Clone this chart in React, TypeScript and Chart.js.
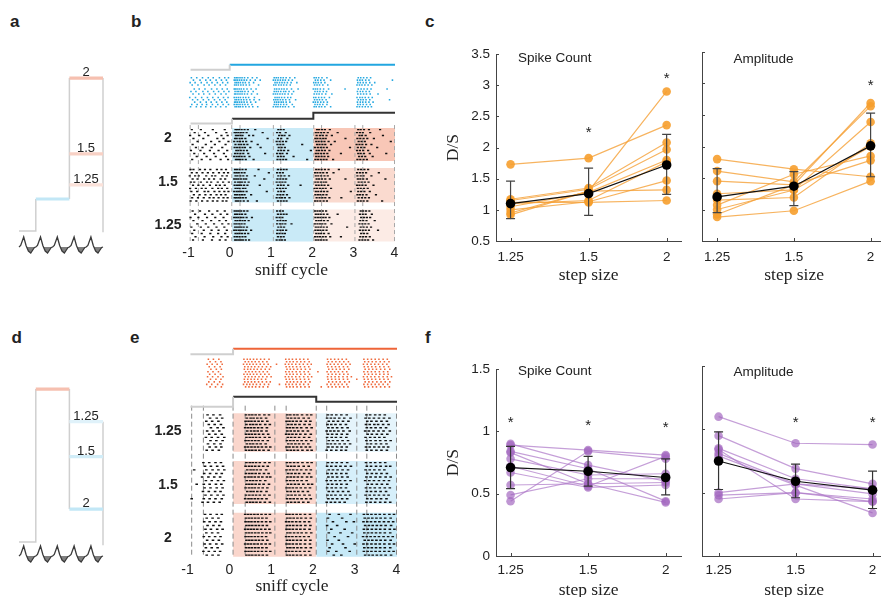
import React, { useEffect, useRef } from 'react';
import { Chart, registerables } from 'chart.js';

Chart.register(...registerables);

const SANS = '"Liberation Sans", Arial, Helvetica, sans-serif';
const SERIF = '"Liberation Serif", "Times New Roman", Times, serif';
Chart.defaults.font.family = SANS;
Chart.defaults.color = '#222';

// ===================== DATA =====================
const stepSizes = ['1.25', '1.5', '2'];
const sniffTicks = [-1, 0, 1, 2, 3, 4];

// panel c : step up (orange), D/S per cell at step sizes 1.25 / 1.5 / 2
const upSpikeCells = [
  [1.73, 1.83, 2.36], [0.92, 1.30, 2.90], [1.17, 1.35, 2.08], [1.15, 1.33, 1.97], [1.05, 1.28, 1.80],
  [1.10, 1.15, 1.77], [1.00, 1.13, 1.47], [0.95, 1.30, 1.32], [1.12, 1.12, 1.15],
];
const upSpikeMean = [1.10, 1.26, 1.72];
const upSpikeLow = [0.86, 0.91, 1.25];
const upSpikeHigh = [1.46, 1.67, 2.21];
const upSpikeStars = [[2, 2.3], [3, 3.17]];

const upAmpCells = [
  [1.80, 1.64, 1.52], [1.61, 1.44, 2.64], [1.45, 1.39, 2.69], [1.25, 1.31, 2.39], [1.15, 1.19, 2.05],
  [1.07, 1.56, 1.85], [1.00, 1.31, 2.00], [0.92, 1.39, 1.78], [0.88, 0.98, 1.45],
];
const upAmpMean = [1.20, 1.37, 2.01];
const upAmpLow = [0.95, 1.06, 1.52];
const upAmpHigh = [1.65, 1.60, 2.53];
const upAmpStars = [[3, 3.02]];

// panel f : step down (purple)
const downSpikeCells = [
  [0.90, 0.73, 0.60], [0.89, 0.85, 0.81], [0.84, 0.70, 0.44], [0.83, 0.58, 0.43], [0.78, 0.65, 0.66],
  [0.72, 0.56, 0.80], [0.67, 0.55, 0.57], [0.57, 0.58, 0.59], [0.49, 0.62, 0.62], [0.44, 0.84, 0.78],
];
const downSpikeMean = [0.71, 0.68, 0.63];
const downSpikeLow = [0.54, 0.56, 0.49];
const downSpikeHigh = [0.88, 0.80, 0.78];
const downSpikeStars = [[1, 1.10], [2, 1.08], [3, 1.06]];

const downAmpCells = [
  [1.10, 0.89, 0.88], [0.95, 0.69, 0.57], [0.85, 0.61, 0.53], [0.84, 0.45, 0.43], [0.81, 0.57, 0.49],
  [0.79, 0.56, 0.34], [0.50, 0.57, 0.53], [0.48, 0.50, 0.45], [0.45, 0.50, 0.43],
];
const downAmpMean = [0.75, 0.59, 0.52];
const downAmpLow = [0.525, 0.46, 0.375];
const downAmpHigh = [0.98, 0.725, 0.67];
const downAmpStars = [[2, 1.085], [3, 1.085]];

// schematic (a, d): odour levels in arbitrary schematic units
const upFirstLevel = 1;
const upStepLevels = [4.78, 2.41, 1.44];
const upStepLabels = ['2', '1.5', '1.25'];
const downFirstLevel = 4.78;
const downStepLevels = [3.76, 2.67, 1.03];
const downStepLabels = ['1.25', '1.5', '2'];
const sniffCycleShape = [[0, 0], [0.1, 0.15], [0.28, 1], [0.42, 0.15], [0.56, -0.4], [0.7, -0.6], [0.82, -0.3], [0.92, -0.05], [1, 0]];
const sniffCycleStarts = [0, 1, 2, 3, 4];

// rasters: spike times in 1/100 sniff cycle, one string per trial
const bBlockLabels = ['2', '1.5', '1.25'];
const eBlockLabels = ['1.25', '1.5', '2'];
const bSniffMarks = [-0.96, -0.76, 0.05, 0.25, 1.06, 1.24, 2.04, 2.23, 3.04, 3.23, 4.0];
const eSniffMarks = [-0.9, -0.62, 0.09, 0.38, 1.09, 1.36, 2.08, 2.33, 3.05, 3.29, 4.0];

const bBlueTrials = [
  '-93 -80 -66 -52 -40 -25 -12 -3 12 16 20 25 30 36 44 55 66 108 113 118 124 130 137 146 158 205 210 216 224 236 312 318 325 333 342',
  '-88 -72 -58 -47 -33 -20 -8 11 15 19 24 29 35 41 50 62 74 106 111 117 123 129 135 143 152 208 214 221 229 245 310 316 322 330 338 395',
  '-96 -84 -69 -55 -43 -30 -17 -5 13 17 21 26 32 38 47 58 110 115 121 127 133 140 149 163 204 209 215 222 231 311 317 324 331 340 352',
  '-91 -77 -62 -50 -36 -23 -10 12 16 21 27 33 40 48 70 107 112 119 125 131 138 147 206 212 218 226 238 309 315 321 328 336 345',
  '-86 -74 -60 -44 -31 -18 -6 11 14 18 23 28 34 42 52 64 109 114 120 126 132 139 150 166 203 208 213 220 228 240 280 312 319 326 334 343 382',
  '-94 -82 -65 -53 -39 -27 -14 -2 13 18 22 27 31 37 45 57 108 113 118 124 131 136 144 155 207 213 219 227 235 310 317 323 331 339',
  '-89 -75 -63 -49 -35 -21 -9 12 15 20 25 30 36 43 53 67 106 111 116 122 128 134 142 151 205 211 217 224 233 248 311 318 325 332 341 360',
  '-97 -83 -68 -54 -41 -28 -15 -4 11 16 21 26 33 39 46 60 110 115 120 126 133 141 148 204 209 216 223 230 242 309 316 322 329 337 346',
  '-90 -78 -64 -51 -37 -24 -11 13 17 22 28 34 41 49 59 72 107 112 117 123 129 136 145 160 206 212 218 225 234 312 318 324 331 340 388',
  '-85 -71 -57 -45 -32 -19 -7 12 15 19 24 29 35 42 51 63 109 114 119 125 130 137 146 203 208 214 221 228 237 310 317 323 330 338 348',
  '-92 -79 -67 -56 -42 -29 -16 -3 11 16 20 25 31 37 44 54 108 113 118 124 131 138 152 207 213 219 226 236 311 317 324 332 341',
  '-95 -81 -70 -58 -46 -34 -22 -9 13 17 22 26 32 39 47 56 68 106 112 117 123 129 135 143 156 205 210 217 223 231 245 309 315 322 329 336 344',
];
const bTrials2 = [
  '-92 -70 -41 -12 14 18 23 29 36 44 62 118 124 131 212 217 224 231 243 312 318 326 338 365',
  '-85 -60 -33 -8 12 16 21 27 33 41 80 115 122 136 209 215 222 229 238 262 309 316 323 341',
  '-96 -74 -52 -20 -5 15 20 26 31 47 57 120 127 133 145 211 219 226 235 248 315 321 330 372',
  '-88 -64 -30 -15 13 17 24 30 38 92 117 125 140 208 213 220 227 233 281 310 317 325 334 350',
  '-78 -45 -25 -3 11 19 25 32 40 53 114 121 129 137 210 216 223 230 240 255 313 320 328 391',
  '-90 -58 -36 -10 14 22 28 35 43 68 116 123 130 176 212 218 225 232 246 308 315 322 331 344',
  '-82 -66 -44 -18 12 18 24 31 37 50 75 119 126 134 207 214 221 228 236 292 311 319 327 358',
  '-94 -71 -48 -27 -6 16 21 27 34 42 118 125 132 142 197 211 217 224 231 242 309 316 324 336',
  '-86 -62 -38 -14 13 19 26 33 45 86 115 122 128 139 209 215 222 229 237 270 312 318 326 340 380',
  '-80 -56 -34 -9 11 17 23 29 36 48 117 124 131 155 210 216 223 230 239 314 321 329 347',
  '-91 -68 -47 -22 -4 15 20 25 31 39 58 116 123 130 137 188 208 214 221 228 235 251 310 317 325 333',
];
const bTrials15 = [
  '-95 -88 -72 -60 -47 -31 -20 -9 13 18 24 31 39 70 117 124 131 138 210 216 223 231 240 265 312 319 327 336',
  '-92 -80 -66 -53 -40 -26 -14 -4 12 17 22 29 36 95 115 122 129 207 213 220 227 236 252 309 316 323 331 362',
  '-97 -84 -75 -57 -43 -35 -18 -7 14 19 26 33 42 61 118 125 133 144 209 215 222 230 238 310 318 325 344',
  '-90 -78 -62 -50 -38 -22 -11 11 16 21 27 34 40 84 116 123 130 137 211 217 224 232 243 281 311 317 324 333 378',
  '-94 -86 -70 -55 -45 -29 -16 -2 13 20 25 30 37 46 114 121 128 135 208 214 221 228 234 313 320 328 337',
  '-89 -76 -64 -48 -33 -24 -12 12 18 23 28 35 43 73 117 124 131 142 172 210 216 223 230 239 309 315 322 330 349',
  '-96 -82 -68 -58 -42 -28 -19 -6 14 19 24 32 38 115 122 129 136 206 212 219 226 233 246 311 318 326 335',
  '-93 -79 -61 -52 -37 -25 -13 -3 11 17 22 27 33 41 90 118 125 132 209 215 222 229 237 294 312 319 327 340',
  '-87 -73 -59 -46 -32 -21 -10 13 18 24 30 36 52 116 123 130 139 208 214 220 227 235 310 316 323 332 355',
  '-91 -77 -63 -49 -39 -27 -15 -5 12 16 21 26 32 39 114 121 127 134 145 211 218 225 232 242 271 313 321 329 338',
  '-95 -81 -67 -54 -41 -30 -17 -8 15 20 26 34 44 66 117 124 131 138 207 213 220 228 236 311 318 325 334 370',
];
const bTrials125 = [
  '-90 -72 -50 -30 -12 12 17 22 28 35 43 115 122 129 207 213 219 226 234 318 324 331 339',
  '-84 -60 -42 -22 -6 13 18 24 30 38 117 124 131 138 209 215 221 228 237 262 316 323 330 345',
  '-95 -76 -55 -35 -15 11 16 21 27 33 41 54 114 121 128 208 214 220 227 233 242 319 326 333 341',
  '-88 -66 -45 -25 -9 14 19 25 31 37 46 116 123 130 136 210 216 222 229 238 317 324 332 352',
  '-79 -58 -38 -18 -3 12 17 23 29 36 115 122 128 135 150 207 213 219 225 232 247 315 322 329 337',
  '-93 -70 -52 -32 -13 13 18 23 28 34 42 118 125 132 209 215 221 228 236 285 318 325 333 343',
  '-86 -63 -44 -27 -7 11 16 22 27 33 40 52 116 123 129 137 208 214 220 227 235 316 323 330 338 360',
  '-91 -68 -47 -28 -11 14 19 24 30 37 45 115 121 128 134 210 216 222 229 240 319 326 334',
  '-83 -61 -40 -20 -5 12 18 24 31 38 117 124 131 207 213 219 226 233 244 270 317 324 331 340',
  '-89 -65 -43 -24 -10 13 17 22 27 32 39 47 114 121 127 134 209 215 221 228 235 315 322 329 336 348',
];

const eOrangeTrials = [
  '-50 -38 -25 35 43 50 58 66 75 84 95 135 143 151 160 169 178 188 235 243 252 261 270 280 322 331 340 349 358 368 378',
  '-46 -33 -20 38 46 54 62 71 80 90 137 145 153 162 171 180 191 237 246 255 264 274 285 324 333 342 351 361 371 382',
  '-53 -41 -29 -17 34 42 49 57 65 74 83 93 113 134 142 150 159 168 177 187 196 234 242 251 260 269 279 289 321 330 339 348 357 367 377',
  '-48 -35 -22 37 45 53 61 70 79 89 99 136 144 152 161 170 180 190 236 245 254 263 273 283 323 332 341 350 360 370 381',
  '-44 -31 -19 36 44 51 59 67 76 86 96 138 146 154 163 172 182 193 238 247 256 265 275 286 325 334 343 352 362 372 384',
  '-51 -39 -26 39 47 55 63 72 81 91 135 143 151 160 169 179 189 212 234 243 252 261 271 281 322 331 340 349 359 369 379',
  '-47 -34 -21 35 43 50 58 66 75 85 95 137 145 153 162 171 181 192 237 246 255 264 274 284 324 333 342 351 360 370 380',
  '-52 -40 -27 -15 38 46 54 62 71 80 90 100 134 142 150 159 168 178 188 197 235 244 253 262 272 282 292 321 330 339 348 358 368 378 388',
  '-45 -32 -20 36 44 52 60 68 77 87 136 144 152 161 170 180 190 236 245 254 263 273 283 305 323 332 341 350 360 370 380',
  '-49 -36 -23 37 45 53 61 70 79 89 98 138 146 154 163 172 182 193 238 247 256 265 276 287 325 334 343 353 363 373 384',
  '-54 -42 -28 -16 34 42 49 57 65 74 84 94 120 135 143 151 160 169 178 189 234 243 252 261 270 281 322 331 340 349 358 368 379',
  '-46 -33 -19 39 47 55 63 72 81 92 137 145 153 162 171 181 191 220 237 246 255 264 274 284 324 333 343 352 362 372 383',
];
const eTrials125 = [
  '-52 -38 -22 40 48 55 63 72 84 95 139 146 155 163 174 186 196 236 245 256 268 281 328 337 349 360 372',
  '-46 -30 -17 42 51 58 67 76 88 140 148 157 166 178 190 234 243 252 263 275 290 326 335 346 358 370 383',
  '-55 -41 -26 39 46 53 61 70 79 91 137 144 152 161 171 183 194 238 249 260 272 285 330 340 352 364 377',
  '-49 -35 -20 41 50 57 65 74 86 97 141 149 158 168 180 192 235 244 254 266 279 327 336 347 356 368 381',
  '-44 -28 -14 38 45 52 60 69 78 90 138 145 153 162 172 185 197 237 247 258 270 283 329 339 350 362 375',
  '-53 -39 -24 43 52 60 68 77 89 139 147 156 165 176 188 233 242 251 261 273 288 325 334 345 357 369 384',
  '-48 -33 -18 40 47 54 62 71 81 93 136 143 151 160 170 182 195 236 246 257 269 282 331 341 353 365 378',
  '-56 -42 -27 -12 41 49 56 64 73 85 96 140 148 157 167 179 191 234 245 255 267 280 326 337 348 359 371',
  '-45 -31 -16 39 46 54 62 70 80 92 138 146 154 163 173 184 196 238 248 259 271 284 328 338 350 361 374 386',
  '-51 -36 -21 42 50 57 66 75 87 141 149 158 167 177 189 235 243 253 264 276 289 330 339 351 363 376',
  '-47 -32 -19 38 45 53 61 69 78 88 98 137 144 153 162 172 183 193 237 247 258 269 281 327 336 347 358 369 380',
  '-54 -40 -25 40 48 55 63 72 82 94 139 147 155 164 175 187 197 233 244 256 268 279 329 340 352 364 377',
];
const eTrials15 = [
  '-62 -48 -33 -20 41 49 56 64 73 85 96 138 146 155 164 175 187 197 236 246 257 269 282 327 338 349 361 373',
  '-58 -44 -29 -15 39 47 54 62 71 81 92 140 148 156 166 178 190 234 244 255 266 278 291 329 339 351 362 375 385',
  '-84 -55 -40 -26 -12 43 51 58 66 75 88 137 145 153 162 172 184 195 238 248 259 271 284 326 336 347 359 371',
  '-60 -46 -31 -18 40 48 55 63 72 83 94 141 149 158 167 179 191 235 245 256 268 280 330 341 352 364 377',
  '-65 -50 -36 -22 38 46 53 61 70 79 90 98 139 147 155 164 174 186 196 237 247 258 270 283 328 338 350 361 374 386',
  '-56 -42 -27 -13 42 50 57 65 74 86 138 146 154 163 173 185 233 243 254 265 277 290 325 335 346 358 370 382',
  '-78 -61 -47 -32 -19 41 48 55 63 72 82 95 140 148 157 166 177 189 198 236 246 257 268 281 331 341 353 365 378',
  '-59 -45 -30 -16 39 47 54 61 70 80 91 137 144 152 161 171 182 193 234 245 255 267 279 327 337 348 360 372 384',
  '-63 -49 -34 -21 43 51 58 67 76 89 139 147 156 165 176 188 238 248 260 272 285 329 339 350 362 375',
  '-57 -43 -28 -14 40 48 56 64 73 84 96 141 149 158 168 180 192 235 244 254 266 278 289 326 336 347 358 370 381',
  '-90 -61 -47 -33 -18 38 46 53 61 69 78 89 138 146 154 163 173 184 195 237 247 258 270 282 330 340 352 363 376',
  '-64 -51 -37 -23 42 50 57 65 74 85 97 140 148 157 166 177 189 233 243 253 264 276 328 338 349 361 373 385',
];
const eTrials2 = [
  '-58 -45 -30 -18 38 45 52 60 68 77 87 97 137 144 152 161 170 181 193 240 262 290 322 331 340 350 360 371 383 394',
  '-54 -40 -26 40 47 54 62 70 79 89 139 146 154 163 172 183 195 236 270 324 333 342 352 362 373 386',
  '-60 -47 -33 -20 39 46 53 61 69 78 88 98 136 143 151 160 169 180 191 248 280 298 321 330 339 349 359 370 381 392',
  '-52 -38 -24 41 48 55 63 71 80 90 138 145 153 162 171 182 194 234 258 325 334 343 353 363 374 387',
  '-57 -44 -29 -16 38 45 52 59 67 76 86 96 137 144 152 161 170 180 192 244 276 322 331 341 351 361 372 384 395',
  '-55 -41 -27 40 47 54 62 70 79 89 98 139 146 155 164 173 184 196 238 266 294 323 332 341 351 361 372 385',
  '-61 -48 -34 -21 39 46 53 61 69 78 88 136 143 151 160 169 179 190 252 284 320 329 338 348 358 369 380 391',
  '-53 -39 -25 41 48 55 63 71 80 91 138 145 153 162 171 182 194 235 262 324 333 342 352 362 373 386',
  '-59 -46 -31 -17 38 45 52 60 68 77 87 97 137 144 152 161 170 181 193 246 272 300 321 330 340 350 360 371 383 394',
  '-56 -42 -28 40 47 54 62 70 79 89 139 146 154 163 172 183 195 240 278 323 332 341 351 361 372 385',
  '-62 -49 -35 -22 39 46 53 61 69 78 88 98 136 143 151 160 169 180 191 237 256 288 322 331 340 350 360 371 382 393',
  '-54 -40 -26 41 48 55 63 71 80 90 138 145 153 162 171 182 194 250 268 325 334 343 353 363 374 387',
];

// ===================== HELPERS =====================
function rangeFor(p0: number, v0: number, p1: number, v1: number, s: number, e: number) {
  const k = (v1 - v0) / (p1 - p0);
  const a = v0 + (s - p0) * k;
  const b = v0 + (e - p0) * k;
  return { min: Math.min(a, b), max: Math.max(a, b) };
}
const pts = (arr: number[][]) => arr.map(([x, y]) => ({ x, y }));
function seg(p: number[][], color: string, w: number, order = 3, dash: number[] = [], yAxisID = 'y') {
  return { data: pts(p), borderColor: color, borderWidth: w, borderDash: dash, pointRadius: 0, fill: false, tension: 0, order, yAxisID };
}
function rect(x0: number, x1: number, y0: number, y1: number, color: string) {
  return { data: pts([[x0, y0], [x1, y0]]), borderColor: 'rgba(0,0,0,0)', borderWidth: 0, pointRadius: 0, fill: { value: y1 }, backgroundColor: color, order: 10 };
}
function spread(a: number, b: number, n: number) {
  return Array.from({ length: n }, (_, i) => a + (i * (b - a)) / (n - 1));
}
function spikes(rows: string[], ys: number[], color: string, r: number, dash = false) {
  const data: { x: number; y: number }[] = [];
  rows.forEach((row, i) => row.trim().split(/\s+/).forEach((t) => data.push({ x: Number(t) / 100, y: ys[i] })));
  return dash
    ? { data, showLine: false, pointStyle: 'line', pointRadius: r, pointBorderColor: color, pointBorderWidth: 1.4, pointBackgroundColor: color, borderWidth: 0, order: 2 }
    : { data, showLine: false, pointStyle: 'rect', pointRadius: r, pointBackgroundColor: color, pointBorderWidth: 0, borderWidth: 0, order: 2 };
}
const baseOpts = { responsive: false, animation: false, events: [] as string[] };
const noPlug = { legend: { display: false }, tooltip: { enabled: false } };

// ===================== SCHEMATICS (a, d) =====================
const SCH = { W: 120, H: 220, unit: 32 };
const aBox = { T: 50, base: 231, wave: 247 };
const dBox = { T: 360, base: 542, wave: 556 };
const GRAY = '#cfcfcf';
const PINKS = ['#f6c0b0', '#f8d1c5', '#fbe2da'];
const BLUES = ['#e0f2fa', '#d1edf8', '#c2e7f6'];

function waveDataset() {
  const data = sniffCycleStarts.flatMap((c) => sniffCycleShape.map(([p, v]) => ({ x: c + p, y: v })));
  return { data, yAxisID: 'yw', borderColor: '#3a3a3a', borderWidth: 1.3, pointRadius: 0, tension: 0, order: 1, fill: { target: { value: 0 }, above: 'rgba(0,0,0,0)', below: '#808080' } };
}
function schemConfig(box: { T: number; base: number; wave: number }, datasets: any[]) {
  const xr = rangeFor(19, 0, 103, 5, 0, SCH.W);
  const yr = rangeFor(box.base, 0, box.base - SCH.unit, 1, box.T, box.T + SCH.H);
  const wr = rangeFor(box.wave, 0, box.wave - 10, 1, box.T, box.T + SCH.H);
  return {
    type: 'line',
    data: { datasets: [...datasets, waveDataset()] },
    options: {
      ...baseOpts, layout: { padding: 0 }, plugins: noPlug,
      scales: {
        x: { type: 'linear', display: false, ...xr },
        y: { type: 'linear', display: false, ...yr },
        yw: { type: 'linear', display: false, ...wr },
      },
    },
  };
}
const makeA = () => schemConfig(aBox, [
  seg([[0, 0], [1, 0], [1, upFirstLevel]], GRAY, 1.5),
  seg([[3, upFirstLevel], [3, upStepLevels[0]]], GRAY, 1.5),
  seg([[5, upStepLevels[0]], [5, -0.04]], GRAY, 1.5),
  seg([[1, upFirstLevel], [3, upFirstLevel]], BLUES[2], 3.2, 2),
  ...upStepLevels.map((L, i) => seg([[3, L], [5, L]], PINKS[i], 3.2, 2)),
]);
const makeD = () => schemConfig(dBox, [
  seg([[0, 0], [1, 0], [1, downFirstLevel]], GRAY, 1.5),
  seg([[3, downFirstLevel], [3, downStepLevels[2]]], GRAY, 1.5),
  seg([[5, downStepLevels[0]], [5, -0.1]], GRAY, 1.5),
  seg([[1, downFirstLevel], [3, downFirstLevel]], PINKS[0], 3.2, 2),
  ...downStepLevels.map((L, i) => seg([[3, L], [5, L]], BLUES[i], 3.2, 2)),
]);

// ===================== RASTERS (b, e) =====================
type Box = { L: number; T: number; W: number; H: number; l: number; t: number; r: number; b: number };
const bBox: Box = { L: 170, T: 55, W: 240, H: 226, l: 188, t: 58, r: 395, b: 243 };
const eBox: Box = { L: 170, T: 335, W: 240, H: 262, l: 187, t: 338, r: 397, b: 557 };

function rasterConfig(box: Box, xm1: number, x4: number, datasets: any[], tickPad: number, titlePad: number) {
  const xr = rangeFor(xm1, -1, x4, 4, box.l, box.r);
  return {
    type: 'line',
    data: { datasets },
    options: {
      ...baseOpts, plugins: noPlug,
      layout: { padding: { left: box.l - box.L, right: box.L + box.W - box.r, top: box.t - box.T, bottom: 0 } },
      scales: {
        x: {
          type: 'linear', ...xr,
          afterBuildTicks: (s: any) => { s.ticks = sniffTicks.map((value) => ({ value })); },
          afterFit: (s: any) => { s.height = box.T + box.H - box.b; },
          grid: { display: false, drawTicks: false }, border: { display: false },
          ticks: { padding: tickPad, font: { size: 14 }, color: '#222', callback: (v: any) => String(v) },
          title: { display: true, text: 'sniff cycle', font: { family: SERIF, size: 17.5 }, color: '#222', padding: { top: 0, bottom: titlePad } },
        },
        y: { type: 'linear', display: false, min: box.t, max: box.b, reverse: true },
      },
    },
  };
}

const bBlocks = [
  { rows: bTrials2, top: 126.5, bot: 160, pink: '#f8c7b7' },
  { rows: bTrials15, top: 167, bot: 202, pink: '#fadacf' },
  { rows: bTrials125, top: 209, bot: 241.5, pink: '#fcebe5' },
];
const bOn = 0.055, bStep2 = 2.03;
const makeB = () => {
  const ds: any[] = [];
  bBlocks.forEach((k) => {
    ds.push(rect(bOn, bStep2, k.top, k.bot, '#c9eaf7'));
    ds.push(rect(bStep2, 4.05, k.top, k.bot, k.pink));
    ds.push(spikes(k.rows, spread(k.top + 1.6, k.bot - 1.6, k.rows.length), '#111', 1.1, true));
  });
  bSniffMarks.forEach((m) => ds.push(seg([[m, 123.5], [m, 243]], '#a8a8a8', 1, 9, [4, 3])));
  const blueY = [...spread(75.5, 83, 4), ...spread(87, 92, 3), ...spread(95.5, 105, 5)];
  ds.push(spikes(bBlueTrials, blueY, '#27a9e1', 1.1));
  ds.push(seg([[-0.95, 67.5], [0, 67.5], [0, 62.5]], GRAY, 2));
  ds.push(seg([[0, 62.5], [4.05, 62.5]], '#22a6e0', 2));
  ds.push(seg([[-0.95, 122], [bOn, 122], [bOn, 117]], GRAY, 2));
  ds.push(seg([[bOn, 117], [bStep2, 117], [bStep2, 111], [4.05, 111]], '#333', 2));
  return rasterConfig(bBox, 188.5, 394.5, ds, 2, 0.5);
};

const eBlocks = [
  { rows: eTrials125, top: 411.7, bot: 450.7, blue: '#e5f4fb' },
  { rows: eTrials15, top: 460, bot: 503.3, blue: '#d6effa' },
  { rows: eTrials2, top: 512.3, bot: 556.7, blue: '#c6e9f7' },
];
const eOn = 0.09, eStep2 = 2.08;
const makeE = () => {
  const ds: any[] = [];
  eBlocks.forEach((k) => {
    ds.push(rect(eOn, eStep2, k.top, k.bot, '#fad6cc'));
    ds.push(rect(eStep2, 4.05, k.top, k.bot, k.blue));
    ds.push(spikes(k.rows, spread(k.top + 1.6, k.bot - 1.6, k.rows.length), '#111', 1.3, true));
  });
  eSniffMarks.forEach((m) => ds.push(seg([[m, 404], [m, 557]], '#8a8a8a', 1, 9, [5, 3])));
  ds.push(spikes(eOrangeTrials, spread(357, 385, eOrangeTrials.length), '#ef6a3c', 1.1));
  ds.push(seg([[-0.93, 352], [eOn, 352], [eOn, 346.5]], GRAY, 2));
  ds.push(seg([[eOn, 346.5], [4.05, 346.5]], '#ee6438', 2));
  ds.push(seg([[-0.93, 405], [eOn, 405], [eOn, 395]], GRAY, 2));
  ds.push(seg([[eOn, 395], [eStep2, 395], [eStep2, 400], [4.05, 400]], '#333', 2));
  return rasterConfig(eBox, 187.5, 396.5, ds, 4.6, 0);
};

// ===================== D/S PANELS (c, f) =====================
const cS: Box = { L: 436, T: 40, W: 250, H: 250, l: 496, t: 52, r: 683, b: 241 };
const cA: Box = { L: 690, T: 40, W: 201, H: 250, l: 702, t: 52, r: 891, b: 241 };
const fS: Box = { L: 436, T: 355, W: 250, H: 250, l: 496, t: 366, r: 683, b: 556 };
const fA: Box = { L: 690, T: 355, W: 201, H: 250, l: 702, t: 366, r: 891, b: 556 };

function panelPlugins(lo: number[], hi: number[], stars: number[][], meanIndex: number, errColor: string) {
  return [
    {
      id: 'inTicks',
      beforeDatasetsDraw(chart: any) {
        const { ctx, chartArea: a, scales } = chart;
        ctx.save(); ctx.strokeStyle = '#444'; ctx.lineWidth = 1; ctx.beginPath();
        for (const t of scales.y.ticks) { const p = Math.round(scales.y.getPixelForValue(t.value)) + 0.5; ctx.moveTo(a.left, p); ctx.lineTo(a.left + 3, p); }
        for (const t of scales.x.ticks) { const p = Math.round(scales.x.getPixelForValue(t.value)) + 0.5; ctx.moveTo(p, a.bottom); ctx.lineTo(p, a.bottom - 3); }
        ctx.stroke(); ctx.restore();
      },
    },
    {
      id: 'errStars',
      beforeDatasetDraw(chart: any, args: any) {
        if (args.index !== meanIndex) return;
        const { ctx, scales: { x, y } } = chart;
        ctx.save(); ctx.strokeStyle = errColor; ctx.lineWidth = 1.2; ctx.beginPath();
        lo.forEach((l, i) => {
          const px = x.getPixelForValue(i + 1), p1 = y.getPixelForValue(l), p2 = y.getPixelForValue(hi[i]);
          ctx.moveTo(px, p1); ctx.lineTo(px, p2);
          ctx.moveTo(px - 4.5, p1); ctx.lineTo(px + 4.5, p1);
          ctx.moveTo(px - 4.5, p2); ctx.lineTo(px + 4.5, p2);
        });
        ctx.stroke(); ctx.restore();
      },
      afterDatasetsDraw(chart: any) {
        const { ctx, scales: { x, y } } = chart;
        ctx.save(); ctx.fillStyle = '#222'; ctx.font = `15px ${SANS}`; ctx.textAlign = 'center'; ctx.textBaseline = 'alphabetic';
        for (const [sx, sy] of stars) ctx.fillText('*', x.getPixelForValue(sx), y.getPixelForValue(sy) + 15 * 0.55);
        ctx.restore();
      },
    },
  ];
}

function panelConfig(o: { box: Box; cells: number[][]; mean: number[]; lo: number[]; hi: number[]; stars: number[][]; yMin: number; yMax: number; yLabels: boolean; x1: number; x3: number; line: string; dot: string; tickPad: number; err: string }) {
  const { box } = o;
  const xr = rangeFor(o.x1, 1, o.x3, 3, box.l, box.r);
  const cellsDs = o.cells.map((c) => ({
    data: c.map((v, i) => ({ x: i + 1, y: v })), borderColor: o.line, borderWidth: 1.2, tension: 0,
    pointRadius: 4.3, pointBackgroundColor: o.dot, pointBorderWidth: 0, order: 1,
  }));
  const meanDs = {
    data: o.mean.map((v, i) => ({ x: i + 1, y: v })), borderColor: '#111', borderWidth: 1.2, tension: 0,
    pointRadius: 4.8, pointBackgroundColor: '#000', pointBorderWidth: 0, order: 0,
  };
  return {
    type: 'line',
    data: { datasets: [...cellsDs, meanDs] },
    plugins: panelPlugins(o.lo, o.hi, o.stars, cellsDs.length, o.err),
    options: {
      ...baseOpts, plugins: noPlug,
      layout: { padding: { left: 0, top: box.t - box.T, right: box.L + box.W - box.r, bottom: 0 } },
      scales: {
        x: {
          type: 'linear', ...xr,
          afterBuildTicks: (s: any) => { s.ticks = [1, 2, 3].map((value) => ({ value })); },
          afterFit: (s: any) => { s.height = box.T + box.H - box.b; },
          grid: { display: false, drawTicks: false }, border: { display: true, color: '#444', width: 1 },
          ticks: { padding: o.tickPad, font: { size: 13.5 }, color: '#222', callback: (v: any) => stepSizes[Math.round(v) - 1] ?? '' },
          title: { display: true, text: 'step size', font: { family: SERIF, size: 17.5 }, color: '#222', padding: { top: 0, bottom: 4.5 } },
        },
        y: {
          type: 'linear', min: o.yMin, max: o.yMax,
          afterFit: (s: any) => { s.width = box.l - box.L; },
          grid: { display: false, drawTicks: false }, border: { display: true, color: '#444', width: 1 },
          ticks: { stepSize: 0.5, display: o.yLabels, padding: 6, font: { size: 13.5 }, color: '#222', callback: (v: any) => String(Math.round(Number(v) * 100) / 100) },
          title: { display: o.yLabels, text: 'D/S', font: { family: SERIF, size: 17.5 }, color: '#222', padding: { top: 7, bottom: 0 } },
        },
      },
    },
  };
}

const ORANGE_LINE = 'rgba(245,160,55,0.8)';
const ORANGE_DOT = 'rgba(246,158,46,0.9)';
const PURPLE_LINE = 'rgba(172,118,200,0.7)';
const PURPLE_DOT = 'rgba(160,100,190,0.68)';

const makeCS = () => panelConfig({ box: cS, cells: upSpikeCells, mean: upSpikeMean, lo: upSpikeLow, hi: upSpikeHigh, stars: upSpikeStars, yMin: 0.5, yMax: 3.5, yLabels: true, x1: 510.7, x3: 668.3, line: ORANGE_LINE, dot: ORANGE_DOT, tickPad: 8, err: '#444' });
const makeCA = () => panelConfig({ box: cA, cells: upAmpCells, mean: upAmpMean, lo: upAmpLow, hi: upAmpHigh, stars: upAmpStars, yMin: 0.5, yMax: 3.5, yLabels: false, x1: 717.5, x3: 875, line: ORANGE_LINE, dot: ORANGE_DOT, tickPad: 8, err: '#444' });
const makeFS = () => panelConfig({ box: fS, cells: downSpikeCells, mean: downSpikeMean, lo: downSpikeLow, hi: downSpikeHigh, stars: downSpikeStars, yMin: 0, yMax: 1.5, yLabels: true, x1: 510.7, x3: 667.3, line: PURPLE_LINE, dot: PURPLE_DOT, tickPad: 6, err: '#333' });
const makeFA = () => panelConfig({ box: fA, cells: downAmpCells, mean: downAmpMean, lo: downAmpLow, hi: downAmpHigh, stars: downAmpStars, yMin: 0, yMax: 1.5, yLabels: false, x1: 719, x3: 877, line: PURPLE_LINE, dot: PURPLE_DOT, tickPad: 6, err: '#333' });

// ===================== COMPONENTS =====================
function ChartBox({ L, T, W, H, make }: { L: number; T: number; W: number; H: number; make: () => any }) {
  const ref = useRef<HTMLCanvasElement | null>(null);
  useEffect(() => {
    const chart = new Chart(ref.current as HTMLCanvasElement, make());
    return () => chart.destroy();
  }, [make]);
  return <canvas ref={ref} width={W} height={H} style={{ position: 'absolute', left: L, top: T, width: W, height: H }} />;
}

function Txt({ x, y, s, children, bold = false, family = SANS, anchor = 'start' }: { x: number; y: number; s: number; children: any; bold?: boolean; family?: string; anchor?: string }) {
  const tx = anchor === 'middle' ? '-50%' : anchor === 'end' ? '-100%' : '0';
  return (
    <div style={{ position: 'absolute', left: x, top: y - 0.846 * s, fontSize: s, lineHeight: `${s}px`, fontFamily: family, fontWeight: bold ? 'bold' : 'normal', whiteSpace: 'nowrap', transform: `translateX(${tx})`, color: '#222' }}>
      {children}
    </div>
  );
}

export default function App() {
  const bLabelY = [142, 186, 229];
  const eLabelY = [434.5, 489, 541.7];
  return (
    <div style={{ position: 'fixed', left: 0, top: 0, width: 881, height: 597, overflow: 'hidden', background: '#fff' }}>
      <ChartBox L={0} T={aBox.T} W={SCH.W} H={SCH.H} make={makeA} />
      <ChartBox L={0} T={dBox.T} W={SCH.W} H={SCH.H} make={makeD} />
      <ChartBox L={bBox.L} T={bBox.T} W={bBox.W} H={bBox.H} make={makeB} />
      <ChartBox L={eBox.L} T={eBox.T} W={eBox.W} H={eBox.H} make={makeE} />
      <ChartBox L={cS.L} T={cS.T} W={cS.W} H={cS.H} make={makeCS} />
      <ChartBox L={cA.L} T={cA.T} W={cA.W} H={cA.H} make={makeCA} />
      <ChartBox L={fS.L} T={fS.T} W={fS.W} H={fS.H} make={makeFS} />
      <ChartBox L={fA.L} T={fA.T} W={fA.W} H={fA.H} make={makeFA} />

      <Txt x={10} y={27} s={17} bold>a</Txt>
      <Txt x={131} y={27} s={17} bold>b</Txt>
      <Txt x={425} y={27} s={17} bold>c</Txt>
      <Txt x={11.5} y={343} s={17} bold>d</Txt>
      <Txt x={130} y={343} s={17} bold>e</Txt>
      <Txt x={425} y={343} s={17} bold>f</Txt>

      {upStepLevels.map((L, i) => (
        <Txt key={'a' + i} x={86} y={aBox.base - L * SCH.unit - 2} s={13} anchor="middle">{upStepLabels[i]}</Txt>
      ))}
      {downStepLevels.map((L, i) => (
        <Txt key={'d' + i} x={86} y={dBox.base - L * SCH.unit - 2} s={13} anchor="middle">{downStepLabels[i]}</Txt>
      ))}

      {bBlockLabels.map((t, i) => (
        <Txt key={'b' + i} x={168} y={bLabelY[i]} s={14} bold anchor="middle">{t}</Txt>
      ))}
      {eBlockLabels.map((t, i) => (
        <Txt key={'e' + i} x={168} y={eLabelY[i]} s={14} bold anchor="middle">{t}</Txt>
      ))}

      <Txt x={518} y={62.5} s={13.5}>Spike Count</Txt>
      <Txt x={733.5} y={63} s={13.5}>Amplitude</Txt>
      <Txt x={518} y={375} s={13.5}>Spike Count</Txt>
      <Txt x={733.5} y={376} s={13.5}>Amplitude</Txt>
    </div>
  );
}
